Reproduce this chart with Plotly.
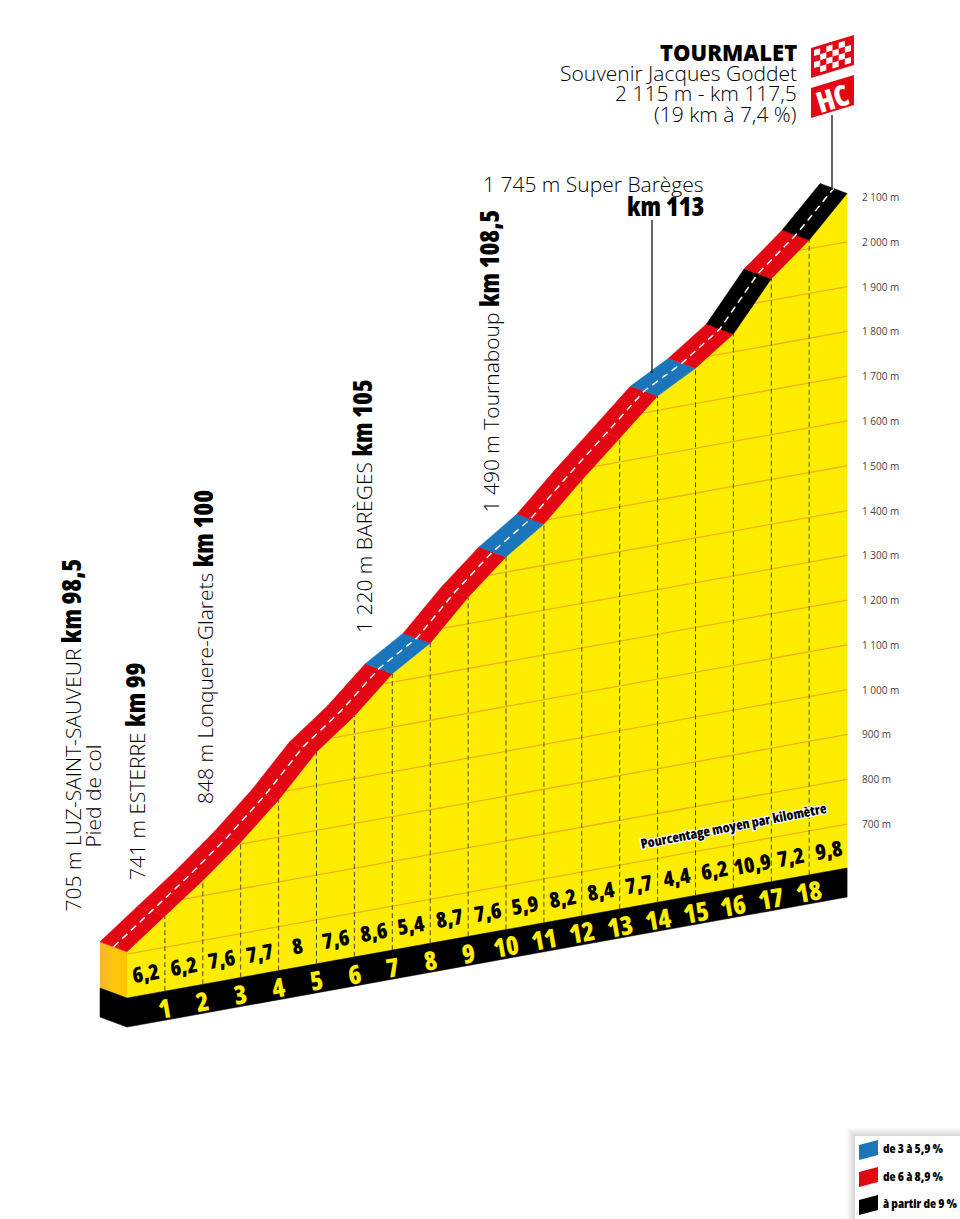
import plotly.graph_objects as go

# ---- data ----
km = list(range(20))
altitude = [705, 770, 834, 904, 983, 1075, 1140, 1219, 1272, 1359, 1434, 1492,
            1575, 1653, 1732, 1779, 1840, 1948, 2019, 2108]
percent = [6.2, 6.2, 7.6, 7.7, 8, 7.6, 8.6, 5.4, 8.7, 7.6, 5.9, 8.2, 8.4, 7.7,
           4.4, 6.2, 10.9, 7.2, 9.8]
grid_alt = [700, 800, 900, 1000, 1100, 1200, 1300, 1400, 1500, 1600, 1700, 1800,
            1900, 2000, 2100]
grid_labels = ["700 m", "800 m", "900 m", "1 000 m", "1 100 m", "1 200 m", "1 300 m",
               "1 400 m", "1 500 m", "1 600 m", "1 700 m", "1 800 m", "1 900 m",
               "2 000 m", "2 100 m"]
legend_labels = ["de 3 à 5,9 %", "de 6 à 8,9 %", "à partir de 9 %"]

# ---- styles / geometry ----
YELLOW, RED, BLUE, BLACK = "#FFED00", "#E30613", "#1B75BB", "#000000"
W, H = 960, 1219
PX_KM = 37.9          # px per km
PX_M = 0.4479         # px per metre
X0 = 127              # px of km 0
SHEAR = 0.1806 * PX_KM / PX_M   # m per km of oblique projection
BASE_ALT, BOTTOM_ALT = 602, 537
DK, DA = -27 / PX_KM, 10 / PX_M   # depth of the road
OPEN = "Open Sans"
BODY = 21


def Y(k, a):
    return a + SHEAR * k


y_top = 2100 + SHEAR * 19 + 197 / PX_M
xr = [-X0 / PX_KM, (W - X0) / PX_KM]
yr = [y_top - H / PX_M, y_top]


def alt_at(a):
    for i in range(len(km) - 1):
        if altitude[i] <= a <= altitude[i + 1]:
            return km[i] + (a - altitude[i]) / (altitude[i + 1] - altitude[i])
    return 0.0 if a < altitude[0] else km[-1]


def poly(xs, ys, color, **kw):
    return go.Scatter(x=xs, y=ys, mode="lines", fill="toself", fillcolor=color,
                      line=dict(color=color, width=0.5), hoverinfo="skip",
                      showlegend=False, **kw)


def line(xs, ys, color, width, dash="solid"):
    return go.Scatter(x=xs, y=ys, mode="lines", line=dict(color=color, width=width, dash=dash),
                      hoverinfo="skip", showlegend=False)


def px(x, y):
    return x / W, 1 - y / H


def path(points):
    pts = [px(*p) for p in points]
    return "M " + " L ".join(f"{a:.5f},{b:.5f}" for a, b in pts) + " Z"


def shp(points, color):
    return dict(type="path", xref="paper", yref="paper", path=path(points),
                fillcolor=color, line=dict(width=0), layer="above")


def slope_color(p):
    return BLACK if p >= 9 else RED if p >= 6 else BLUE


fig = go.Figure()

# Left side of the block
fig.add_trace(go.Scatter(
    x=[0, DK, DK, 0, 0],
    y=[Y(0, altitude[0]), Y(0, altitude[0]) + DA, Y(0, BASE_ALT) + DA, Y(0, BASE_ALT), Y(0, altitude[0])],
    mode="lines", fill="toself", line=dict(width=0), hoverinfo="skip", showlegend=False,
    fillgradient=dict(type="horizontal", colorscale=[[0, "#F7B52A"], [0.5, "#FDC60B"], [1, "#FFC400"]])))
fig.add_trace(poly([0, DK, DK, 0, 0],
                   [Y(0, BASE_ALT), Y(0, BASE_ALT) + DA, Y(0, BOTTOM_ALT) + DA, Y(0, BOTTOM_ALT), Y(0, BASE_ALT)],
                   BLACK))

# Yellow wall
fig.add_trace(poly(km + [km[-1], km[0]],
                   [Y(k, a) for k, a in zip(km, altitude)] + [Y(km[-1], BASE_ALT), Y(km[0], BASE_ALT)],
                   YELLOW))
# Black base band
fig.add_trace(poly([km[0], km[-1], km[-1], km[0]],
                   [Y(km[0], BASE_ALT), Y(km[-1], BASE_ALT), Y(km[-1], BOTTOM_ALT), Y(km[0], BOTTOM_ALT)],
                   BLACK))

# Altitude lines on the wall
for a in grid_alt[:-1]:
    start = alt_at(a)
    fig.add_trace(line([start, km[-1]], [Y(start, a), Y(km[-1], a)], "#EDB21A", 1.3))

# Kilometre lines
for k, a in zip(km[1:-1], altitude[1:-1]):
    fig.add_trace(line([k, k], [Y(k, BASE_ALT), Y(k, a)], "#4A4A2A", 1, "5px,3px"))

# Road
for i, p in enumerate(percent):
    k0, k1 = km[i], km[i + 1]
    y0, y1 = Y(k0, altitude[i]), Y(k1, altitude[i + 1])
    fig.add_trace(poly([k0, k1, k1 + DK, k0 + DK, k0], [y0, y1, y1 + DA, y0 + DA, y0], slope_color(p)))
fig.add_trace(line([k + DK / 2 for k in km], [Y(k, a) + DA / 2 for k, a in zip(km, altitude)],
                   "#FFFFFF", 1.5, "7px,5px"))

ann = []


def text(x, y, t, size, family=OPEN, color="#000000", angle=0, xa="center", ya="middle",
         weight=300, ref="paper", shadow=None):
    if ref == "paper":
        x, y = px(x, y)
    f = dict(size=size, family=family, color=color, weight=weight)
    if shadow:
        f["shadow"] = shadow
    ann.append(dict(x=x, y=y, xref=ref if ref == "paper" else "x", yref=ref if ref == "paper" else "y",
                    text=t, showarrow=False, font=f, textangle=angle, xanchor=xa, yanchor=ya,
                    borderpad=0, borderwidth=0))


def bold(t, size=26):
    return (f'<span style="font-family:Open Sans;font-weight:800;font-stretch:75%;'
            f'font-size:{size}px;fill:#000">{t}</span>')


def cond(t):
    return f'<span style="font-stretch:75%">{t}</span>'


for a, lab in zip(grid_alt, grid_labels):
    text(19.4, Y(19, a), lab, 10, color="#444444", xa="left", ref="data", weight=400)

for i, p in enumerate(percent):
    lab = f"{p:g}".replace(".", ",")
    text(km[i] + 0.5, Y(km[i] + 0.5, 651), cond(lab), 21.5, OPEN, "#000000", -10, weight=800, ref="data")
for k in km[1:-1]:
    text(k, Y(k, 565), cond(str(k)), 26, OPEN, YELLOW, -10, weight=800, ref="data")

text(733, 826, cond("Pourcentage moyen par kilomètre"), 13.5, OPEN, "#000000", -11, weight=800,
     shadow="-1px -1px 0 #fff,1px -1px 0 #fff,-1px 1px 0 #fff,1px 1px 0 #fff,0 1px 0 #fff,0 -1px 0 #fff,1px 0 0 #fff,-1px 0 0 #fff")

text(70, 912, "705 m LUZ-SAINT-SAUVEUR " + bold("km 98,5"), BODY, angle=-90, ya="bottom")
text(92, 848, "Pied de col", BODY, angle=-90, ya="bottom")
text(135, 880, "741 m ESTERRE " + bold("km 99"), BODY, angle=-90, ya="bottom")
text(203, 804, "848 m Lonquere-Glarets " + bold("km 100"), BODY, angle=-90, ya="bottom")
text(362, 633, "1 220 m BARÈGES " + bold("km 105"), BODY, angle=-90, ya="bottom")
text(488, 513, "1 490 m Tournaboup " + bold("km 108,5"), BODY, angle=-90, ya="bottom")

text(704, 184, "1 745 m Super Barèges", BODY, xa="right")
text(704, 206, cond("km 113"), 26, OPEN, "#000000", xa="right", weight=800)
text(797, 52, "TOURMALET", 22, color="#000000", xa="right", weight=800)
text(797, 73, "Souvenir Jacques Goddet", BODY, xa="right")
text(797, 93, "2 115 m - km 117,5", BODY, xa="right")
text(797, 114, "(19 km à 7,4 %)", BODY, xa="right")
text(832, 97, cond("HC"), 29, OPEN, "#FFFFFF", -17, weight=800)

shapes = []
# Pointer lines
for x, y0, y1 in [(652, 220, 373), (832, 115, 190)]:
    a, b0 = px(x, y0)
    _, b1 = px(x, y1)
    shapes.append(dict(type="line", xref="paper", yref="paper", x0=a, x1=a, y0=b0, y1=b1,
                       line=dict(color="#111111", width=1.3), layer="above"))

# Flags
fl, fr = 811, 854
shapes.append(shp([(fl, 48), (fr, 35), (fr, 65), (fl, 78)], RED))
shapes.append(shp([(fl, 88), (fr, 75), (fr, 105), (fl, 118)], RED))
cols, rows = 6, 4
cell_w = (fr - fl - 6) / cols
cell_h = (30 - 6) / rows
sl = (35 - 48) / (fr - fl)
for c in range(cols):
    for r in range(rows):
        if (c + r) % 2 == 0:
            xa_ = fl + 3 + c * cell_w
            xb_ = xa_ + cell_w
            ya_ = 48 + 3 + r * cell_h + sl * (xa_ - fl)
            yb_ = 48 + 3 + r * cell_h + sl * (xb_ - fl)
            shapes.append(shp([(xa_, ya_), (xb_, yb_), (xb_, yb_ + cell_h), (xa_, ya_ + cell_h)], "#FFFFFF"))

# Legend box with soft shadow
for i in range(8, 0, -1):
    shapes.append(dict(type="rect", xref="paper", yref="paper",
                       x0=(855 - i) / W, x1=1, y0=0, y1=1 - (1136 - i) / H,
                       fillcolor="rgba(0,0,0,0.02)", line=dict(width=0), layer="above"))
shapes.append(dict(type="rect", xref="paper", yref="paper", x0=855 / W, x1=1, y0=0, y1=1 - 1136 / H,
                   fillcolor="#FFFFFF", line=dict(width=0), layer="above"))
for col, top, lab, yc in zip([BLUE, RED, BLACK], [1145, 1172, 1200], legend_labels, [1148, 1176, 1203]):
    shapes.append(shp([(859, top), (878, top - 5), (878, top + 10), (859, top + 15)], col))
    text(883, yc, cond(lab), 12.5, OPEN, "#000000", xa="left", weight=800)

fig.update_layout(
    width=W, height=H, autosize=False,
    margin=dict(l=0, r=0, t=0, b=0, pad=0),
    paper_bgcolor="#FFFFFF", plot_bgcolor="#FFFFFF",
    xaxis=dict(range=xr, visible=False, fixedrange=True),
    yaxis=dict(range=yr, visible=False, fixedrange=True),
    annotations=ann, shapes=shapes, showlegend=False,
)
fig.write_html("out.html", config={"displayModeBar": False},
               post_script="document.body.style.margin='0';")
